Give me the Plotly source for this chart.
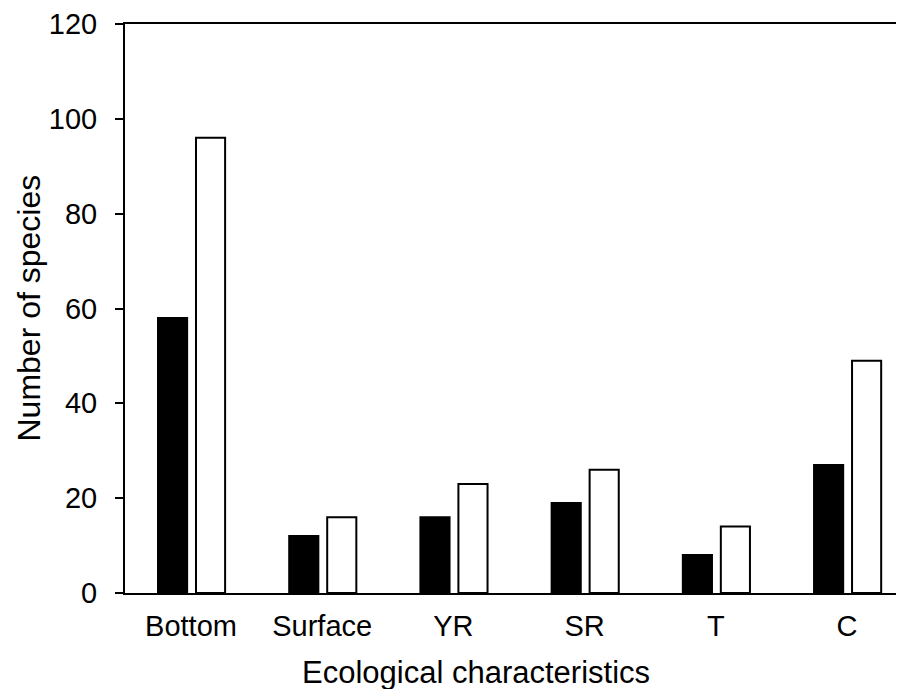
import plotly.graph_objects as go

categories = ["Bottom", "Surface", "YR", "SR", "T", "C"]
series_black = [58, 12, 16, 19, 8, 27]
series_white = [96, 16, 23, 26, 14, 49]
y_ticks = [0, 20, 40, 60, 80, 100, 120]

FONT = "Arial, Liberation Sans, sans-serif"
xpos = list(range(len(categories)))

fig = go.Figure()
fig.add_trace(go.Bar(
    x=xpos, y=series_black, width=0.222, offset=-0.2515,
    marker=dict(color="black", line=dict(color="black", width=2)),
    showlegend=False,
))
fig.add_trace(go.Bar(
    x=xpos, y=series_white, width=0.222, offset=0.038,
    marker=dict(color="white", line=dict(color="black", width=2)),
    showlegend=False,
))

# page body has an 8px margin, so the figure is sized to fill the rest of the window
fig.update_layout(
    width=896, height=681,
    margin=dict(l=117, r=0, t=16, b=96),
    plot_bgcolor="white", paper_bgcolor="white",
    barmode="overlay",
    font=dict(family=FONT, color="black", size=29),
    xaxis=dict(
        range=[-0.503, 5.434], tickmode="array", tickvals=xpos, ticktext=categories,
        showline=True, linecolor="black", linewidth=2, mirror=True,
        ticks="", showgrid=False, zeroline=False, ticklabelstandoff=6,
        tickfont=dict(family=FONT, size=29, color="black"),
    ),
    yaxis=dict(
        range=[0, 120], tickmode="array", tickvals=y_ticks,
        showline=True, linecolor="black", linewidth=2, mirror=False,
        ticks="outside", ticklen=8, tickwidth=2, tickcolor="black",
        showgrid=False, zeroline=False, ticklabelstandoff=12,
        tickfont=dict(family=FONT, size=29, color="black"),
    ),
    annotations=[
        dict(text="Ecological characteristics", xref="paper", yref="paper",
             x=0.4506, y=-0.139, xanchor="center", yanchor="middle",
             showarrow=False, font=dict(family=FONT, size=31, color="black")),
        dict(text="Number of species", xref="paper", yref="paper",
             x=-0.1245, y=0.5, xanchor="center", yanchor="middle", textangle=-90,
             showarrow=False, font=dict(family=FONT, size=32, color="black")),
    ],
)

fig.write_html("out.html")
